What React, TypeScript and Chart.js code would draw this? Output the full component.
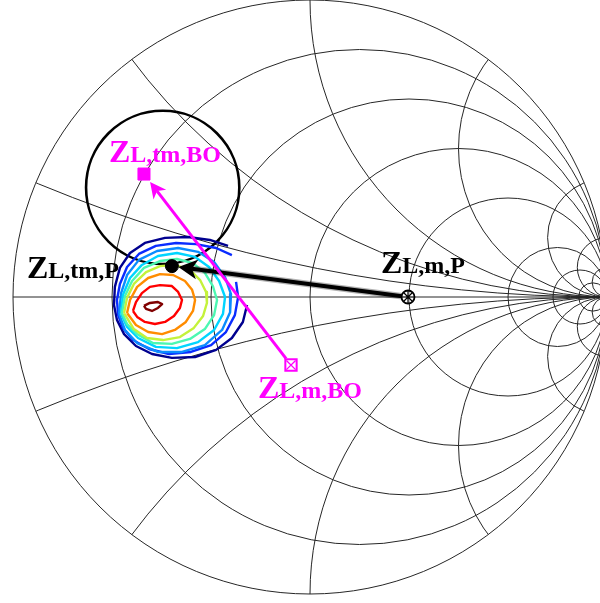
import React, { useEffect, useRef } from 'react';
import { Chart, registerables } from 'chart.js';

Chart.register(...registerables);

type Pt = [number, number];

// Smith chart grid: normalized resistance circles and reactance arcs
const RESISTANCE_VALUES = [0.2, 0.5, 1, 2, 5, 10, 20];
const REACTANCE_VALUES = [0.2, 0.5, 1, 2, 5, 10, 20];

// Output-power contours in the reflection-coefficient plane (Re Γ, Im Γ), innermost first
const contour1: Pt[] = [[-0.559, -0.030], [-0.539, -0.020], [-0.512, -0.017], [-0.498, -0.024], [-0.512, -0.037], [-0.532, -0.047], [-0.552, -0.040]];
const contour2: Pt[] = [[-0.596, -0.047], [-0.586, -0.017], [-0.566, 0.013], [-0.539, 0.034], [-0.505, 0.040], [-0.465, 0.037], [-0.444, 0.017], [-0.431, -0.010], [-0.438, -0.037], [-0.458, -0.064], [-0.488, -0.084], [-0.522, -0.091], [-0.556, -0.084], [-0.582, -0.067]];
const contour3: Pt[] = [[-0.616, -0.054], [-0.606, -0.010], [-0.582, 0.034], [-0.545, 0.064], [-0.505, 0.077], [-0.461, 0.074], [-0.421, 0.054], [-0.397, 0.024], [-0.387, -0.010], [-0.394, -0.047], [-0.418, -0.084], [-0.455, -0.111], [-0.498, -0.125], [-0.545, -0.118], [-0.586, -0.094]];
const contour4: Pt[] = [[-0.626, -0.054], [-0.616, -0.003], [-0.593, 0.044], [-0.552, 0.084], [-0.505, 0.104], [-0.455, 0.108], [-0.404, 0.091], [-0.370, 0.057], [-0.350, 0.017], [-0.347, -0.020], [-0.360, -0.064], [-0.391, -0.104], [-0.438, -0.135], [-0.495, -0.145], [-0.549, -0.138], [-0.593, -0.108]];
const contour5: Pt[] = [[-0.633, -0.054], [-0.623, 0.003], [-0.599, 0.054], [-0.559, 0.098], [-0.505, 0.121], [-0.448, 0.128], [-0.394, 0.114], [-0.354, 0.081], [-0.327, 0.037], [-0.313, -0.010], [-0.323, -0.061], [-0.354, -0.108], [-0.404, -0.141], [-0.465, -0.158], [-0.529, -0.155], [-0.582, -0.125], [-0.616, -0.091]];
const contour6: Pt[] = [[-0.636, -0.057], [-0.630, 0.007], [-0.606, 0.064], [-0.566, 0.108], [-0.512, 0.138], [-0.448, 0.148], [-0.387, 0.135], [-0.340, 0.101], [-0.306, 0.054], [-0.286, 0.000], [-0.293, -0.057], [-0.323, -0.111], [-0.377, -0.152], [-0.448, -0.172], [-0.519, -0.168], [-0.579, -0.138], [-0.616, -0.101]];
const contour7: Pt[] = [[-0.643, -0.057], [-0.636, 0.013], [-0.616, 0.074], [-0.576, 0.125], [-0.515, 0.155], [-0.444, 0.165], [-0.377, 0.152], [-0.323, 0.118], [-0.286, 0.067], [-0.266, 0.010], [-0.269, -0.051], [-0.296, -0.111], [-0.354, -0.162], [-0.431, -0.185], [-0.512, -0.185], [-0.582, -0.155], [-0.623, -0.111]];
const contour8: Pt[] = [[-0.263, 0.141], [-0.316, 0.165], [-0.384, 0.178], [-0.451, 0.182], [-0.519, 0.172], [-0.576, 0.145], [-0.616, 0.101], [-0.640, 0.044], [-0.650, -0.010], [-0.646, -0.061], [-0.630, -0.104], [-0.596, -0.145], [-0.542, -0.175], [-0.475, -0.192], [-0.401, -0.185], [-0.333, -0.162], [-0.283, -0.118], [-0.253, -0.061], [-0.242, 0.000], [-0.249, 0.051]];
const contour9: Pt[] = [[-0.276, 0.172], [-0.337, 0.192], [-0.411, 0.202], [-0.488, 0.199], [-0.556, 0.182], [-0.606, 0.148], [-0.640, 0.098], [-0.657, 0.034], [-0.660, -0.027], [-0.650, -0.077], [-0.626, -0.125], [-0.586, -0.165], [-0.532, -0.192], [-0.465, -0.205], [-0.387, -0.202], [-0.316, -0.178], [-0.263, -0.138], [-0.226, -0.084], [-0.212, -0.027]];

const CONTOURS = [contour1, contour2, contour3, contour4, contour5, contour6, contour7, contour8, contour9];
const CONTOUR_CLOSED = [true, true, true, true, true, true, true, false, false];

// Load reflection coefficients (Re Γ, Im Γ)
const zLmP: Pt = [0.33, 0.0];
const zLtmP: Pt = [-0.465, 0.104];
const zLtmBO: Pt = [-0.559, 0.414];
const zLmBO: Pt = [-0.064, -0.229];

// Constant circle around the back-off target
const circleCenter: Pt = [-0.496, 0.369];
const circleRadius = 0.258;

// ---- styling / layout ----
const W = 600;
const H = 603;
const CX = 310;
const CY = 297;
const RPX = 297;
const GRID_COLOR = '#262626';
const MAGENTA = '#ff00ff';
const CONTOUR_COLORS = ['#800000', '#ff0000', '#ff8c00', '#c4f23a', '#4cf7b2', '#00d5ff', '#0a8cff', '#0a2cff', '#00008f'];
const FONT_FAMILY = '"Liberation Serif", "Times New Roman", serif';

const LABELS = [
  { at: zLtmBO, main: 'Z', sub: 'L,tm,BO', color: MAGENTA, dx: -35, dy: -12 },
  { at: zLtmP, main: 'Z', sub: 'L,tm,P', color: '#000', dx: -145, dy: 12 },
  { at: zLmP, main: 'Z', sub: 'L,m,P', color: '#000', dx: -27, dy: -24 },
  { at: zLmBO, main: 'Z', sub: 'L,m,BO', color: MAGENTA, dx: -33, dy: 33 },
];

const toXY = (p: Pt) => ({ x: p[0], y: p[1] });

function drawArrow(
  ctx: CanvasRenderingContext2D,
  x0: number, y0: number, x1: number, y1: number,
  o: { color: string; width: number; startGap: number; endGap: number; headLen: number; headHalf: number; fuzz?: boolean }
) {
  const dx = x1 - x0;
  const dy = y1 - y0;
  const len = Math.hypot(dx, dy);
  const ux = dx / len;
  const uy = dy / len;
  const nx = -uy;
  const ny = ux;
  const sx = x0 + ux * o.startGap;
  const sy = y0 + uy * o.startGap;
  const tx = x1 - ux * o.endGap;
  const ty = y1 - uy * o.endGap;
  const bx = tx - ux * o.headLen;
  const by = ty - uy * o.headLen;
  const notchX = tx - ux * o.headLen * 0.72;
  const notchY = ty - uy * o.headLen * 0.72;
  ctx.save();
  ctx.lineCap = 'butt';
  if (o.fuzz) {
    ctx.strokeStyle = 'rgba(0,0,0,0.3)';
    ctx.lineWidth = o.width + 2.5;
    ctx.beginPath();
    ctx.moveTo(sx, sy);
    ctx.lineTo(notchX, notchY);
    ctx.stroke();
  }
  ctx.strokeStyle = o.color;
  ctx.lineWidth = o.width;
  ctx.beginPath();
  ctx.moveTo(sx, sy);
  ctx.lineTo(notchX, notchY);
  ctx.stroke();
  ctx.fillStyle = o.color;
  ctx.beginPath();
  ctx.moveTo(tx, ty);
  ctx.lineTo(bx + nx * o.headHalf, by + ny * o.headHalf);
  ctx.lineTo(notchX, notchY);
  ctx.lineTo(bx - nx * o.headHalf, by - ny * o.headHalf);
  ctx.closePath();
  ctx.fill();
  ctx.restore();
}

const smithPlugin = {
  id: 'smithPlugin',
  beforeDatasetsDraw(chart: any) {
    const { ctx } = chart;
    const xs = chart.scales.x;
    const ys = chart.scales.y;
    const px = (v: number) => xs.getPixelForValue(v);
    const py = (v: number) => ys.getPixelForValue(v);
    const unit = px(1) - px(0);
    ctx.save();
    ctx.strokeStyle = GRID_COLOR;
    ctx.lineWidth = 1;
    ctx.beginPath();
    ctx.arc(px(0), py(0), unit, 0, Math.PI * 2);
    ctx.stroke();
    ctx.beginPath();
    ctx.moveTo(px(-1), py(0));
    ctx.lineTo(px(1), py(0));
    ctx.stroke();
    RESISTANCE_VALUES.forEach((r) => {
      ctx.beginPath();
      ctx.arc(px(r / (1 + r)), py(0), unit / (1 + r), 0, Math.PI * 2);
      ctx.stroke();
    });
    ctx.save();
    ctx.beginPath();
    ctx.arc(px(0), py(0), unit, 0, Math.PI * 2);
    ctx.clip();
    REACTANCE_VALUES.forEach((xv) => {
      [1, -1].forEach((s) => {
        ctx.beginPath();
        ctx.arc(px(1), py(s / xv), unit / xv, 0, Math.PI * 2);
        ctx.stroke();
      });
    });
    ctx.restore();

    ctx.strokeStyle = '#000';
    ctx.lineWidth = 2.6;
    ctx.beginPath();
    ctx.arc(px(circleCenter[0]), py(circleCenter[1]), circleRadius * unit, 0, Math.PI * 2);
    ctx.stroke();
    ctx.restore();
  },
  afterDatasetsDraw(chart: any) {
    const { ctx } = chart;
    const xs = chart.scales.x;
    const ys = chart.scales.y;
    const px = (v: number) => xs.getPixelForValue(v);
    const py = (v: number) => ys.getPixelForValue(v);

    drawArrow(ctx, px(zLmP[0]), py(zLmP[1]), px(zLtmP[0]), py(zLtmP[1]), {
      color: '#000', width: 4, startGap: 6, endGap: 6.5, headLen: 19, headHalf: 10, fuzz: true,
    });
    drawArrow(ctx, px(zLmBO[0]), py(zLmBO[1]), px(zLtmBO[0]), py(zLtmBO[1]), {
      color: MAGENTA, width: 3, startGap: 8, endGap: 10, headLen: 16, headHalf: 8,
    });

    ctx.save();
    ctx.textBaseline = 'alphabetic';
    ctx.textAlign = 'left';
    LABELS.forEach((l) => {
      const x = px(l.at[0]) + l.dx;
      const y = py(l.at[1]) + l.dy;
      ctx.fillStyle = l.color;
      ctx.font = `bold 32px ${FONT_FAMILY}`;
      ctx.fillText(l.main, x, y);
      const w = ctx.measureText(l.main).width;
      ctx.font = `bold 24px ${FONT_FAMILY}`;
      ctx.fillText(l.sub, x + w, y);
    });
    ctx.restore();
  },
};

export default function App() {
  const ref = useRef<HTMLCanvasElement | null>(null);

  useEffect(() => {
    if (!ref.current) return;

    const markerSets: any[] = [
      {
        label: 'ZL,tm,P',
        data: [toXY(zLtmP)],
        pointStyle: 'circle',
        pointRadius: 6.5,
        backgroundColor: '#000',
        borderColor: '#000',
        borderWidth: 1,
      },
      {
        label: 'ZL,m,P star',
        data: [toXY(zLmP)],
        pointStyle: 'star',
        pointRadius: 6,
        backgroundColor: 'transparent',
        borderColor: '#000',
        borderWidth: 1.2,
      },
      {
        label: 'ZL,m,P',
        data: [toXY(zLmP)],
        pointStyle: 'circle',
        pointRadius: 6.5,
        backgroundColor: 'rgba(255,255,255,0.6)',
        borderColor: '#000',
        borderWidth: 1.8,
      },
      {
        label: 'ZL,tm,BO',
        data: [toXY(zLtmBO)],
        pointStyle: 'rect',
        pointRadius: 8.5,
        backgroundColor: MAGENTA,
        borderColor: MAGENTA,
        borderWidth: 1,
      },
      {
        label: 'ZL,m,BO x',
        data: [toXY(zLmBO)],
        pointStyle: 'crossRot',
        pointRadius: 6.5,
        backgroundColor: 'transparent',
        borderColor: MAGENTA,
        borderWidth: 1.3,
      },
      {
        label: 'ZL,m,BO',
        data: [toXY(zLmBO)],
        pointStyle: 'rect',
        pointRadius: 8,
        backgroundColor: '#fff',
        borderColor: MAGENTA,
        borderWidth: 2,
      },
    ];

    const contourSets = CONTOURS.map((c, i) => {
      const pts = c.map(toXY);
      if (CONTOUR_CLOSED[i]) pts.push(toXY(c[0]));
      return {
        label: `contour ${i + 1}`,
        data: pts,
        showLine: true,
        fill: false,
        tension: 0,
        pointRadius: 0,
        borderColor: CONTOUR_COLORS[i],
        borderWidth: 2.4,
        borderJoinStyle: 'round',
      };
    });

    const chart = new Chart(ref.current, {
      type: 'scatter',
      data: { datasets: [...markerSets, ...contourSets] },
      options: {
        animation: false,
        responsive: false,
        devicePixelRatio: 1,
        events: [],
        layout: { padding: 0, autoPadding: false },
        plugins: { legend: { display: false }, tooltip: { enabled: false }, title: { display: false } },
        scales: {
          x: { type: 'linear', display: false, min: -CX / RPX, max: (W - CX) / RPX },
          y: { type: 'linear', display: false, min: -(H - CY) / RPX, max: CY / RPX },
        },
      },
      plugins: [smithPlugin],
    } as any);

    return () => chart.destroy();
  }, []);

  return (
    <div style={{ position: 'fixed', left: 0, top: 0, width: W, height: H, background: '#fff' }}>
      <canvas ref={ref} width={W} height={H} />
    </div>
  );
}
